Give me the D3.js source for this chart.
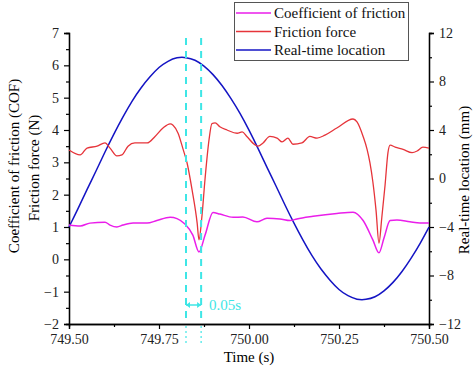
<!DOCTYPE html>
<html>
<head>
<meta charset="utf-8">
<script src="https://d3js.org/d3.v7.min.js"></script>
<style>
  body { margin: 0; background: #fff; }
  text { font-family: "Liberation Serif", "Times New Roman", serif; }
</style>
</head>
<body>
<script>
// time (s) and values
var forceT = [749.500,749.531,749.550,749.578,749.600,749.614,749.633,749.647,749.664,749.683,749.717,749.739,749.761,749.781,749.789,749.803,749.817,749.828,749.842,749.856,749.861,749.869,749.878,749.889,749.897,749.906,749.919,749.939,749.967,749.981,749.994,750.017,750.025,750.039,750.058,750.078,750.092,750.108,750.122,750.147,750.169,750.189,750.211,750.244,750.289,750.300,750.317,750.328,750.336,750.344,750.353,750.361,750.369,750.378,750.386,750.392,750.406,750.428,750.453,750.467,750.483,750.500];
var forceV = [3.38,3.23,3.44,3.50,3.60,3.44,3.20,3.23,3.50,3.60,3.60,3.80,4.06,4.19,4.15,3.90,3.40,2.98,2.14,1.12,0.60,1.30,2.50,3.70,4.20,4.22,4.10,4.00,3.90,3.94,3.80,3.54,3.50,3.60,3.80,3.75,3.63,3.75,3.56,3.60,3.80,3.75,3.84,4.06,4.34,4.25,3.80,3.40,2.98,2.40,1.50,0.50,1.30,2.30,3.30,3.53,3.47,3.40,3.30,3.35,3.47,3.44];

var cofT = [749.500,749.531,749.558,749.600,749.614,749.633,749.650,749.678,749.717,749.744,749.781,749.800,749.822,749.844,749.861,749.878,749.900,749.919,749.956,749.983,750.022,750.050,750.086,750.114,750.133,750.178,750.244,750.289,750.317,750.344,750.361,750.375,750.392,750.411,750.447,750.475,750.500];
var cofV = [1.06,1.03,1.12,1.15,1.06,1.00,1.06,1.12,1.12,1.20,1.30,1.26,1.09,0.75,0.23,0.75,1.45,1.40,1.30,1.31,1.16,1.27,1.25,1.20,1.25,1.33,1.42,1.46,1.20,0.60,0.20,0.66,1.20,1.22,1.16,1.12,1.12];

var locT = [749.500,749.525,749.550,749.575,749.600,749.625,749.650,749.675,749.700,749.725,749.750,749.775,749.800,749.825,749.850,749.875,749.900,749.925,749.950,749.975,750.000,750.025,750.050,750.075,750.100,750.125,750.150,750.175,750.200,750.225,750.250,750.275,750.300,750.325,750.350,750.375,750.400,750.425,750.450,750.475,750.500];
var locV = [-4.0,-2.5,-0.9,0.6,2.2,3.7,5.1,6.4,7.5,8.4,9.2,9.7,10.0,10.0,9.8,9.3,8.6,7.7,6.6,5.4,4.0,2.5,0.9,-0.6,-2.2,-3.7,-5.1,-6.4,-7.5,-8.4,-9.2,-9.7,-10.0,-10.0,-9.8,-9.3,-8.6,-7.7,-6.6,-5.4,-4.0];

var xTicks = [749.50, 749.75, 750.00, 750.25, 750.50];
var leftTicks = [-2, -1, 0, 1, 2, 3, 4, 5, 6, 7];
var rightTicks = [-12, -8, -4, 0, 4, 8, 12];
var markerT = [749.825, 749.867];
var markerLabel = "0.05s";

var seriesNames = ["Coefficient of friction", "Friction force", "Real-time location"];
var seriesColors = ["#ea1eea", "#e6343a", "#1414c4"];
var cyan = "#3ee6e6";

var W = 474, H = 372;
var pL = 69, pR = 429, pT = 33, pB = 324;

var svg = d3.select("body").append("svg")
  .attr("width", W).attr("height", H);

var x = d3.scaleLinear().domain([749.5, 750.5]).range([pL, pR]);
var yL = d3.scaleLinear().domain([-2, 7]).range([pB, pT]);
var yR = d3.scaleLinear().domain([-12, 12]).range([pB, pT]);

// axes
svg.append("g").attr("transform", "translate(0," + pB + ")")
  .call(d3.axisBottom(x).tickValues(xTicks).tickFormat(d3.format(".2f")).tickSizeOuter(0).tickSize(5).tickPadding(5));
svg.append("g").attr("transform", "translate(0," + pB + ")")
  .call(d3.axisBottom(x).tickValues(d3.range(749.625, 750.5, 0.25)).tickFormat("").tickSizeOuter(0).tickSize(3));

svg.append("g").attr("transform", "translate(" + pL + ",0)")
  .call(d3.axisLeft(yL).tickValues(leftTicks).tickFormat(d3.format("d")).tickSizeOuter(0).tickSize(5).tickPadding(5));
svg.append("g").attr("transform", "translate(" + pL + ",0)")
  .call(d3.axisLeft(yL).tickValues(d3.range(-1.5, 7, 1)).tickFormat("").tickSizeOuter(0).tickSize(3));

svg.append("g").attr("transform", "translate(" + pR + ",0)")
  .call(d3.axisRight(yR).tickValues(rightTicks).tickFormat(d3.format("d")).tickSizeOuter(0).tickSize(5).tickPadding(5));
svg.append("g").attr("transform", "translate(" + pR + ",0)")
  .call(d3.axisRight(yR).tickValues(d3.range(-10, 12, 4)).tickFormat("").tickSizeOuter(0).tickSize(3));

svg.selectAll(".domain").attr("stroke", "#000").attr("stroke-width", 1.3);
svg.selectAll(".tick line").attr("stroke", "#000").attr("stroke-width", 1.2);
svg.selectAll(".tick text").attr("font-family", "Liberation Serif").attr("font-size", 14).attr("fill", "#222");

// axis titles
svg.append("text").attr("x", 249).attr("y", 362).attr("text-anchor", "middle")
  .attr("font-size", 15).text("Time (s)");
svg.append("text").attr("transform", "translate(19,166) rotate(-90)").attr("text-anchor", "middle")
  .attr("font-size", 15).text("Coefficient of friction (COF)");
svg.append("text").attr("transform", "translate(39,168) rotate(-90)").attr("text-anchor", "middle")
  .attr("font-size", 15).text("Friction force (N)");
svg.append("text").attr("transform", "translate(469,180) rotate(-90)").attr("text-anchor", "middle")
  .attr("font-size", 15).text("Real-time location (mm)");

// series
function pts(t, v) { return t.map(function(d, i){ return [d, v[i]]; }); }
var lineL = d3.line().x(function(d){ return x(d[0]); }).y(function(d){ return yL(d[1]); }).curve(d3.curveMonotoneX);
var lineR = d3.line().x(function(d){ return x(d[0]); }).y(function(d){ return yR(d[1]); }).curve(d3.curveBasis);

svg.append("path").datum(pts(locT, locV)).attr("d", lineR)
  .attr("fill", "none").attr("stroke", seriesColors[2]).attr("stroke-width", 1.5);
svg.append("path").datum(pts(forceT, forceV)).attr("d", lineL)
  .attr("fill", "none").attr("stroke", seriesColors[1]).attr("stroke-width", 1.3);
svg.append("path").datum(pts(cofT, cofV)).attr("d", lineL)
  .attr("fill", "none").attr("stroke", seriesColors[0]).attr("stroke-width", 1.5);

// cyan markers
markerT.forEach(function(t){
  svg.append("line").attr("x1", x(t)).attr("x2", x(t)).attr("y1", 38).attr("y2", pB)
    .attr("stroke", cyan).attr("stroke-width", 2).attr("stroke-dasharray", "7,6");
  svg.append("line").attr("x1", x(t)).attr("x2", x(t)).attr("y1", pB + 2).attr("y2", 346)
    .attr("stroke", cyan).attr("stroke-width", 1.2).attr("stroke-dasharray", "2,3");
});
var ay = 305, a0 = x(markerT[0]), a1 = x(markerT[1]);
svg.append("line").attr("x1", a0).attr("x2", a1).attr("y1", ay).attr("y2", ay)
  .attr("stroke", cyan).attr("stroke-width", 1.5);
svg.append("path").attr("d", "M" + a0 + "," + ay + "l4,-3v6z M" + a1 + "," + ay + "l-4,-3v6z").attr("fill", cyan);
svg.append("text").attr("x", a1 + 8).attr("y", ay + 5).attr("font-size", 15).attr("fill", cyan).text(markerLabel);

// legend
var lg = svg.append("g");
lg.append("rect").attr("x", 234.5).attr("y", 2.5).attr("width", 174).attr("height", 58)
  .attr("fill", "#fff").attr("stroke", "#555").attr("stroke-width", 1);
seriesNames.forEach(function(n, i){
  var cy = 13 + i * 18.5;
  lg.append("line").attr("x1", 236).attr("x2", 271).attr("y1", cy).attr("y2", cy)
    .attr("stroke", seriesColors[i]).attr("stroke-width", 1.5);
  lg.append("text").attr("x", 274).attr("y", cy + 5).attr("font-size", 15).attr("fill", "#111").text(n);
});
</script>
</body>
</html>
